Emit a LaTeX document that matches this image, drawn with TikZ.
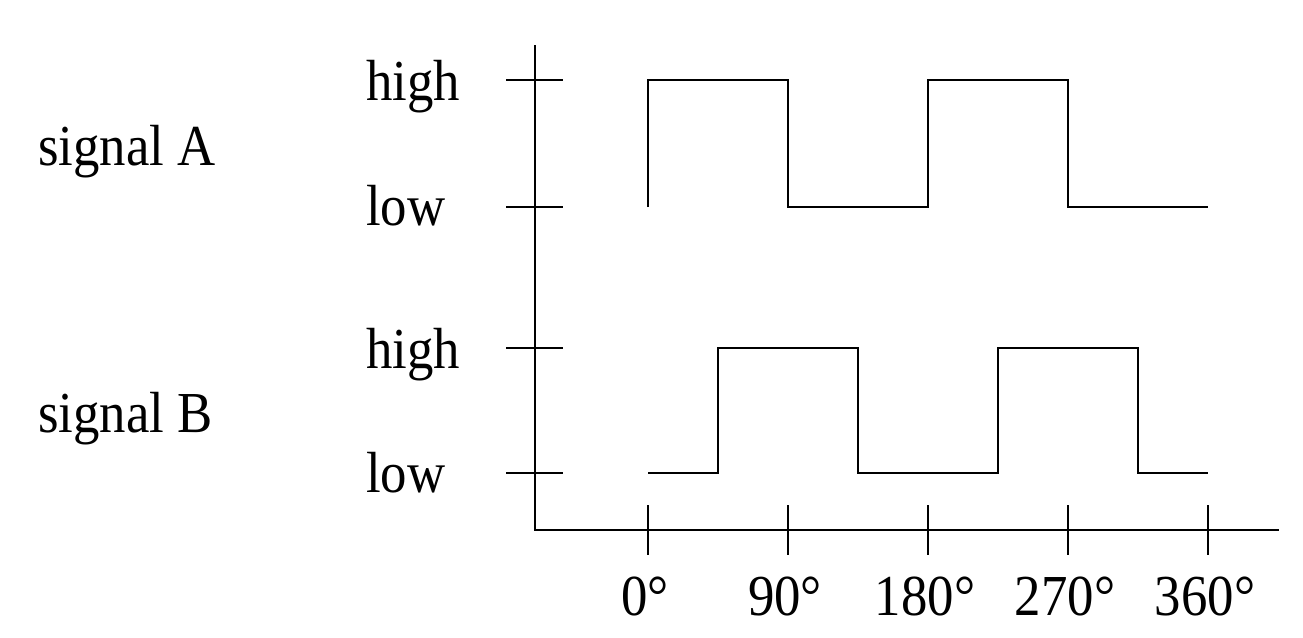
\documentclass[tikz,border=0pt]{standalone}
\usepackage{fontspec}
\setmainfont{Liberation Serif}
\newfontfamily\lblfont[FakeStretch=0.91]{Liberation Serif}
\begin{document}
\begin{tikzpicture}[x=1pt,y=-1pt,
  lbl/.style={inner sep=0pt,anchor=base west,font=\lblfont\fontsize{58}{64}\selectfont},
  deg/.style={inner sep=0pt,anchor=base,font=\lblfont\fontsize{58}{64}\selectfont},
  ln/.style={line width=2pt},
  sig/.style={line width=1.8pt}]
\useasboundingbox (0,0) rectangle (1303,637);
% axes
\coordinate (top) at (535,45);
\coordinate (origin) at (535,530);
\coordinate (right) at (1279,530);
\draw[ln] (top) -- (origin) -- (right);
% y ticks
\foreach \y in {80,207,348,473}{
  \draw[ln] (506,\y) -- (563,\y);
}
% x ticks
\foreach \x/\t [count=\i] in {648/0,788/90,928/180,1068/270,1208/360}{
  \draw[ln] (\x,505) -- (\x,555);
  \node[deg] (d\i) at (\x-3,615) {\t°};
}
% labels
\node[lbl] (highA) at (366,100) {high};
\node[lbl] (lowA) at (366,225) {low};
\node[lbl] (highB) at (366,368) {high};
\node[lbl] (lowB) at (366,492) {low};
\node[lbl] (sigA) at (38,165) {signal A};
\node[lbl] (sigB) at (38,432) {signal B};
% signal A
\draw[sig] (648,207) -- (648,80) -- (788,80) -- (788,207) -- (928,207) -- (928,80) -- (1068,80) -- (1068,207) -- (1208,207);
% signal B
\draw[sig] (648,473) -- (718,473) -- (718,348) -- (858,348) -- (858,473) -- (998,473) -- (998,348) -- (1138,348) -- (1138,473) -- (1208,473);
\end{tikzpicture}
\end{document}
